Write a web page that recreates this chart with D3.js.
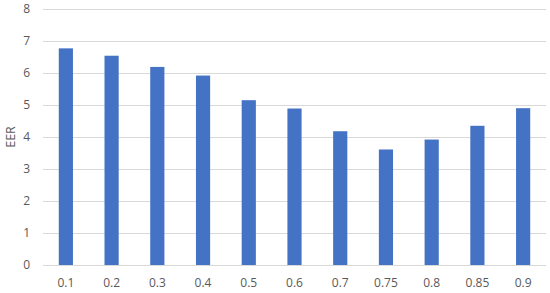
<!DOCTYPE html>
<html>
<head>
<meta charset="utf-8">
<script src="https://cdn.jsdelivr.net/npm/d3@7"></script>
<style>
  body { margin: 0; background: #fff; }
  text { font-family: "Open Sans", "Liberation Sans", sans-serif; fill: #595959; }
</style>
</head>
<body>
<div id="holder"></div>
<script>
// data
var categories = ["0.1", "0.2", "0.3", "0.4", "0.5", "0.6", "0.7", "0.75", "0.8", "0.85", "0.9"];
var eerValues = [6.77, 6.54, 6.19, 5.92, 5.15, 4.89, 4.18, 3.61, 3.92, 4.35, 4.9];
var yTicks = [0, 1, 2, 3, 4, 5, 6, 7, 8];

var width = 550, height = 293;
var margin = {top: 9, right: 4, bottom: 28, left: 43};

let svg = d3.select('#holder').append('svg').attr('width', width).attr('height', height);

var x = d3.scaleBand().domain(categories).range([margin.left, width - margin.right]).paddingInner(0.69).paddingOuter(0.345);
var y = d3.scaleLinear().domain([0, 8]).range([height - margin.bottom, margin.top]);

// gridlines
svg.append('g').selectAll('line').data(yTicks).enter().append('line')
  .attr('x1', margin.left).attr('x2', width - margin.right)
  .attr('y1', d => Math.round(y(d)) + 0.5).attr('y2', d => Math.round(y(d)) + 0.5)
  .style('stroke', '#d9d9d9').style('stroke-width', 1);

// y tick labels
svg.append('g').selectAll('text').data(yTicks).enter().append('text')
  .attr('x', 30).attr('y', d => y(d)).attr('dy', '0.35em')
  .attr('text-anchor', 'end').style('font-size', '12px')
  .text(d => d);

// bars
svg.append('g').selectAll('rect').data(eerValues).enter().append('rect')
  .attr('x', (d, i) => x(categories[i]))
  .attr('width', x.bandwidth())
  .attr('y', d => y(d))
  .attr('height', d => y(0) - y(d))
  .style('fill', '#4472c4');

// x tick labels
svg.append('g').selectAll('text').data(categories).enter().append('text')
  .attr('x', d => x(d) + x.bandwidth() / 2).attr('y', 287)
  .attr('text-anchor', 'middle').style('font-size', '12px')
  .text(d => d);

// y axis title
svg.append('text')
  .attr('transform', 'translate(15,137) rotate(-90)')
  .attr('text-anchor', 'middle').style('font-size', '12.5px')
  .text('EER');
</script>
</body>
</html>
